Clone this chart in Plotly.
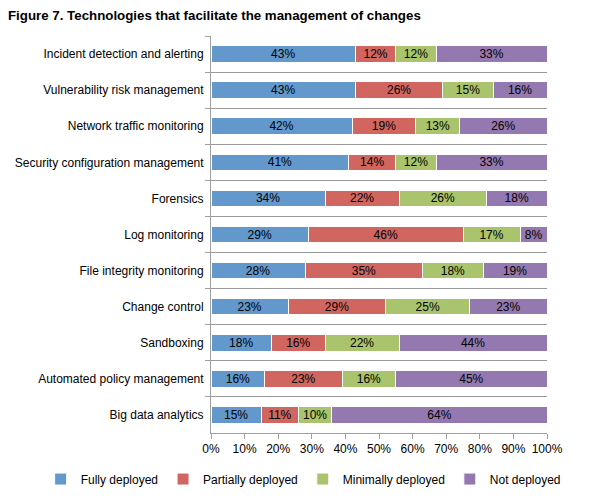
import plotly.graph_objects as go

categories = [
    "Incident detection and alerting",
    "Vulnerability risk management",
    "Network traffic monitoring",
    "Security configuration management",
    "Forensics",
    "Log monitoring",
    "File integrity monitoring",
    "Change control",
    "Sandboxing",
    "Automated policy management",
    "Big data analytics",
]
fully = [43, 43, 42, 41, 34, 29, 28, 23, 18, 16, 15]
partially = [12, 26, 19, 14, 22, 46, 35, 29, 16, 23, 11]
minimally = [12, 15, 13, 12, 26, 17, 18, 25, 22, 16, 10]
not_deployed = [33, 16, 26, 33, 18, 8, 19, 23, 44, 45, 64]

series_names = ["Fully deployed", "Partially deployed", "Minimally deployed", "Not deployed"]
series_values = [fully, partially, minimally, not_deployed]
colors = ["#6298CB", "#D0665F", "#A9C46C", "#9379AF"]

x_ticks = list(range(0, 101, 10))

fig = go.Figure()
for name, vals, col in zip(series_names, series_values, colors):
    fig.add_trace(go.Bar(
        y=categories, x=vals, name=name, orientation="h",
        marker=dict(color=col, line=dict(color="white", width=1)),
        width=0.46,
        text=[f"{v}%" for v in vals],
        textposition="inside", insidetextanchor="middle",
        textfont=dict(color="black", size=12, family="Liberation Sans, Arial, sans-serif"),
        hoverinfo="x+y+name",
    ))

# The page body has an 8px margin, so paper coordinates are page coordinates minus 8.
fig.update_layout(
    barmode="stack",
    width=590, height=503,
    paper_bgcolor="white", plot_bgcolor="white",
    margin=dict(l=203, r=51, t=28, b=78, autoexpand=False),
    font=dict(family="Liberation Sans, Arial, sans-serif", size=12, color="black"),
    uniformtext=dict(minsize=12, mode="show"),
    title=dict(
        text="<b>Figure 7. Technologies that facilitate the management of changes</b>",
        x=0, xanchor="left", xref="container",
        y=0.994, yanchor="top", yref="container",
        font=dict(size=13.3, family="Liberation Sans, Arial, sans-serif", color="black"),
    ),
    legend=dict(
        orientation="h", xref="paper", yref="paper",
        x=-0.507, xanchor="left", y=-0.116, yanchor="middle",
        font=dict(size=12), traceorder="normal",
        itemwidth=30,
    ),
    showlegend=True,
)

fig.update_xaxes(
    range=[0, 100], tickvals=x_ticks, ticktext=[f"{t}%" for t in x_ticks],
    showgrid=False, zeroline=False, automargin=False,
    showline=True, linecolor="#A0A0A0", linewidth=1,
    ticks="outside", ticklen=5, tickcolor="#A0A0A0",
    tickfont=dict(size=12),
)
fig.update_yaxes(
    autorange="reversed", type="category", automargin=False,
    tickson="boundaries", showgrid=True, gridcolor="#9A9A9A", gridwidth=1,
    showline=True, linecolor="#A0A0A0", linewidth=1,
    ticks="outside", ticklen=5, tickcolor="#A0A0A0",
    tickfont=dict(size=12), ticklabelstandoff=4,
)

fig.write_html("out.html")
